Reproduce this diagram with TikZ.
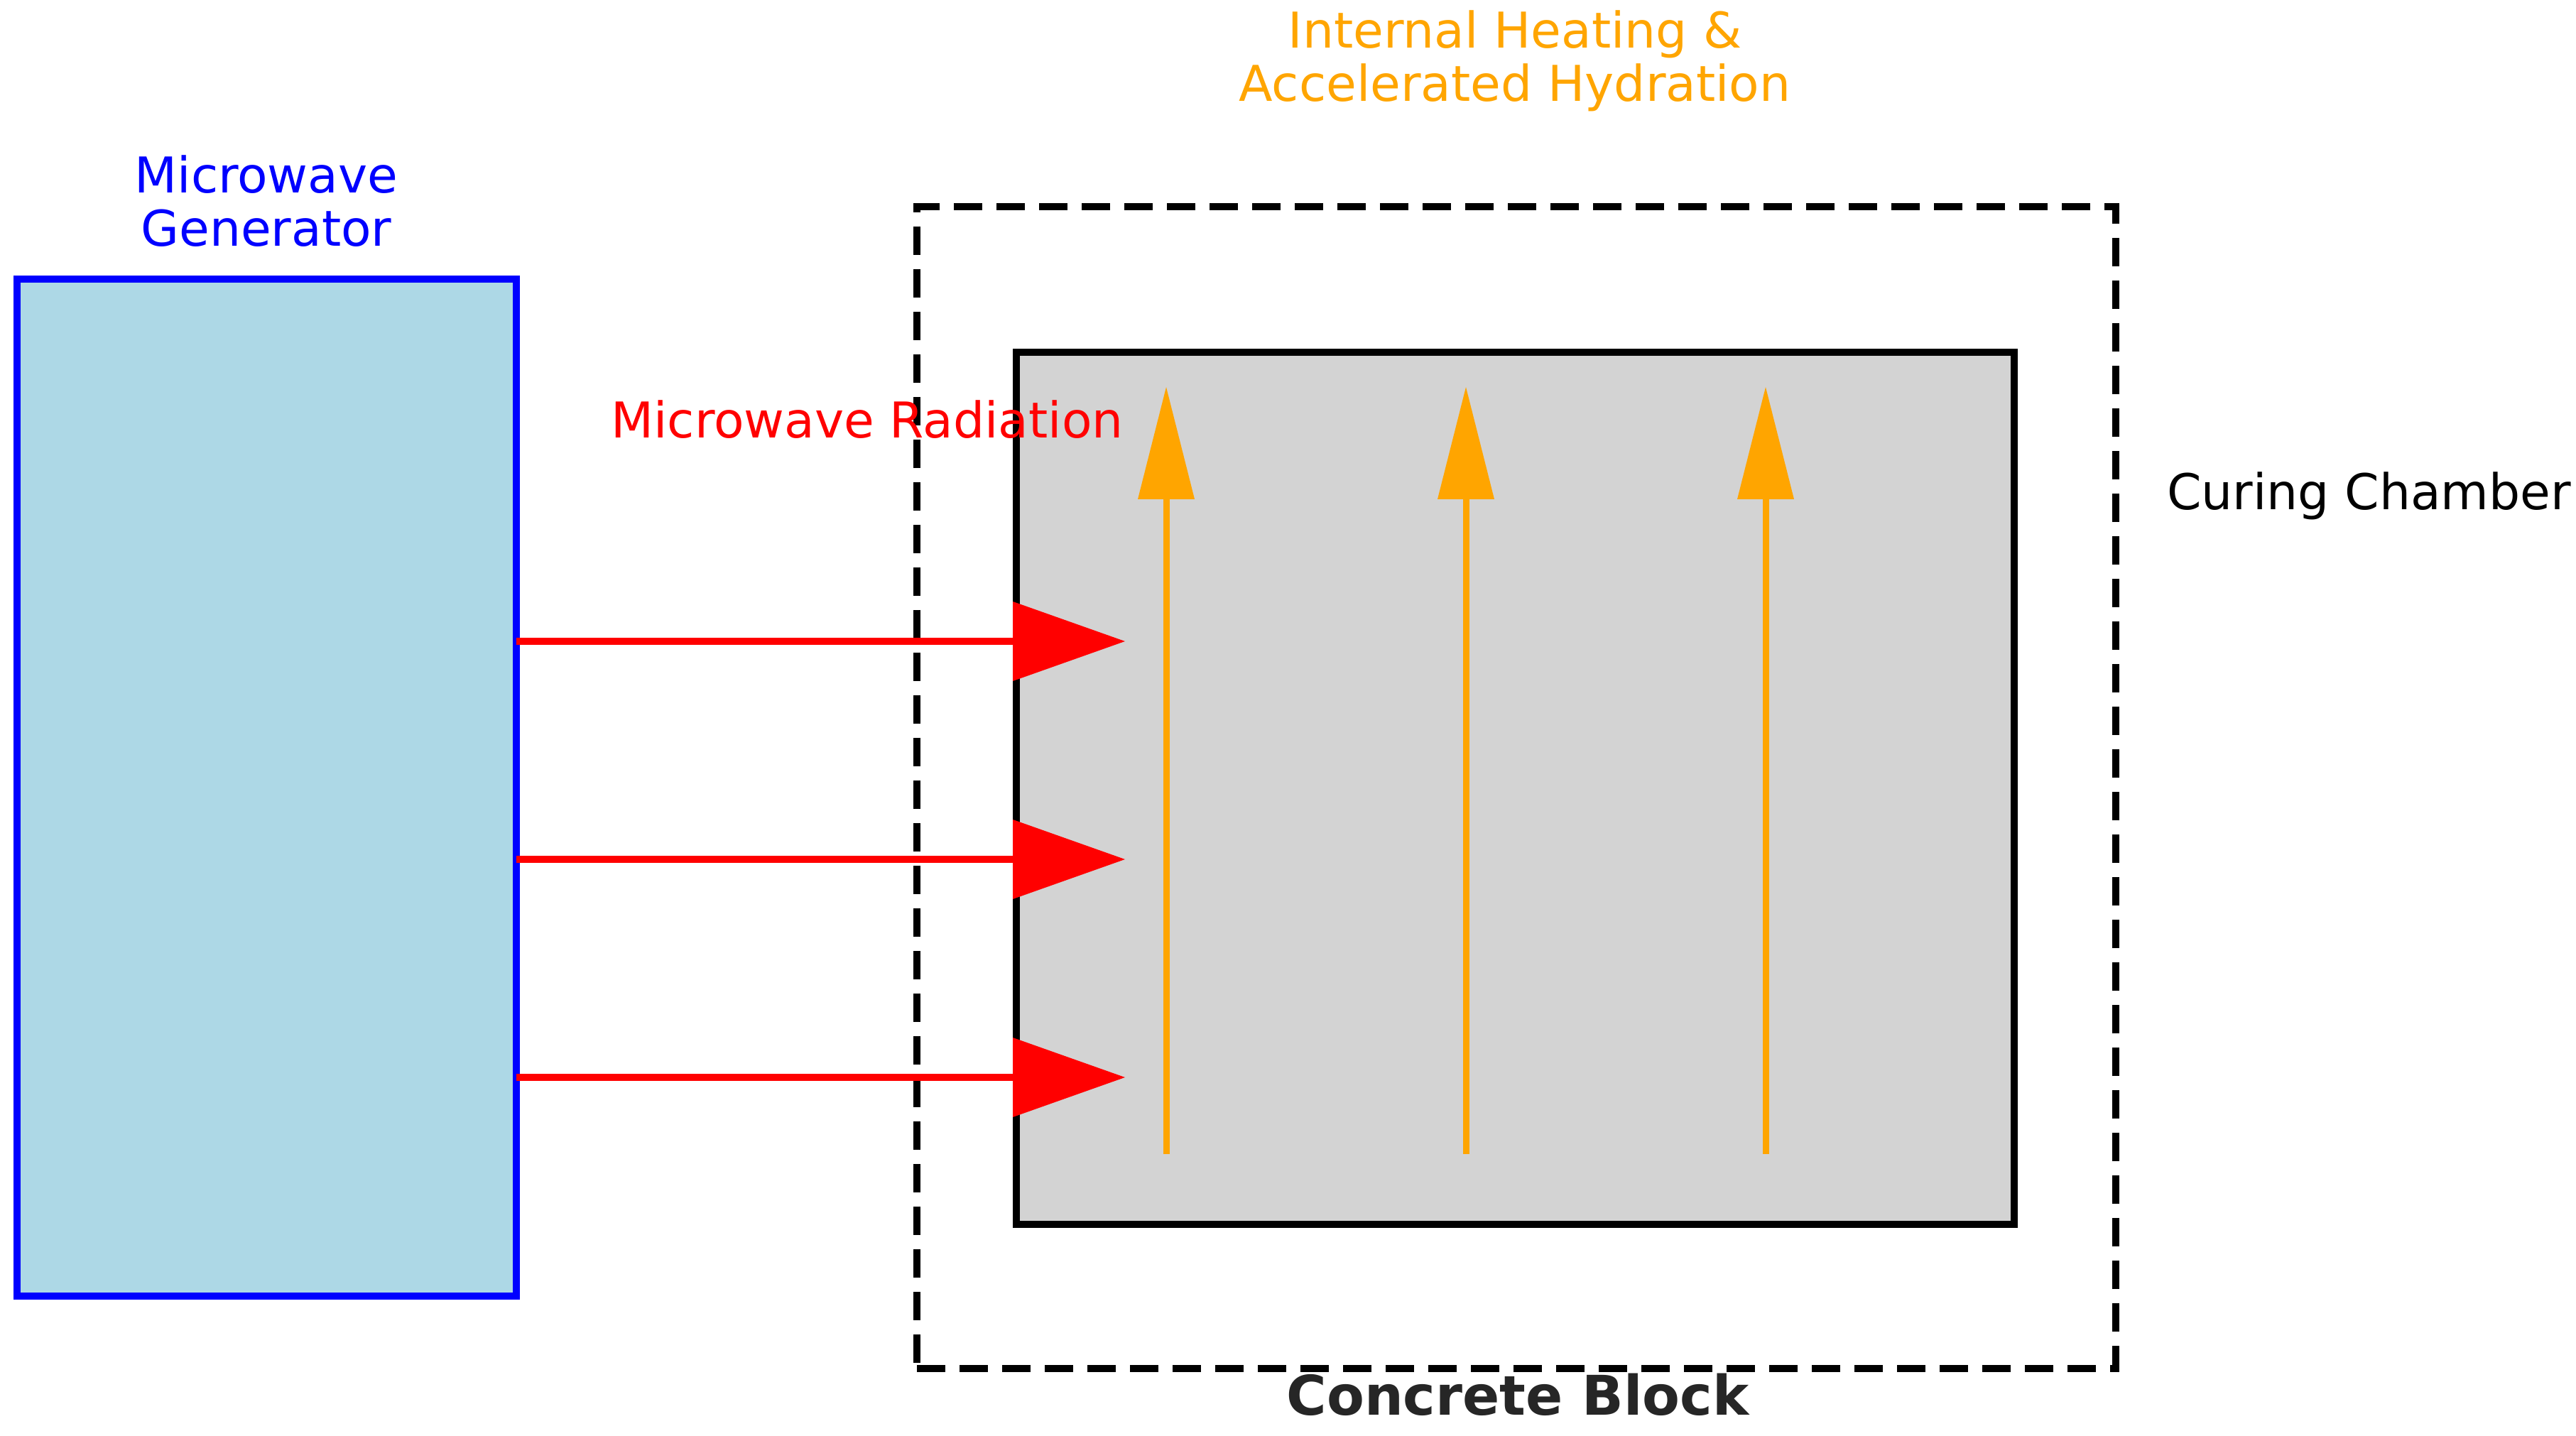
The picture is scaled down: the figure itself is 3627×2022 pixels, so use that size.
\documentclass[tikz,border=0pt]{standalone}
\usepackage{fontspec}
\setmainfont{DejaVu Sans}
\usetikzlibrary{arrows.meta}
\definecolor{genfill}{HTML}{ADD8E6}
\definecolor{genline}{HTML}{0000FF}
\definecolor{blockfill}{HTML}{D3D3D3}
\definecolor{heat}{HTML}{FFA500}
\definecolor{wave}{HTML}{FF0000}
\definecolor{labelgray}{HTML}{262626}
\begin{document}
\begin{tikzpicture}[x=0.2pt,y=-0.2pt,
  box/.style={draw,line width=2pt,inner sep=0pt,outer sep=0pt},
  genbox/.style={box,draw=genline,fill=genfill,minimum width=140.6pt,minimum height=286.4pt},
  chamberbox/.style={box,draw=black,dash pattern=on 8pt off 4pt,minimum width=337.6pt,minimum height=327.2pt},
  blockbox/.style={box,draw=black,fill=blockfill,minimum width=281pt,minimum height=245.6pt},
  txt/.style={inner sep=0pt,anchor=base,font=\fontsize{13.9}{16}\selectfont},
  boldtxt/.style={inner sep=0pt,anchor=base,font=\fontsize{15.4}{18}\selectfont\bfseries,text=labelgray},
  wavearrow/.style={draw=wave,line width=2pt,-{Triangle[length=31.6pt,width=22.4pt,line width=0pt]}},
  heatarrow/.style={draw=heat,line width=1.8pt,-{Triangle[length=31.6pt,width=16pt,line width=0pt]}},
]
\useasboundingbox (0,0) rectangle (3627,2022);

% boxes
\node[chamberbox] (chamber) at (2135,1109) {};
\node[blockbox] (block) at (2133.5,1110) {};
\node[genbox] (gen) at (375.5,1109) {};

% microwave radiation arrows
\coordinate (r1a) at (727,903);  \coordinate (r1b) at (1584,903);
\coordinate (r2a) at (727,1210); \coordinate (r2b) at (1584,1210);
\coordinate (r3a) at (727,1517); \coordinate (r3b) at (1584,1517);
\draw[wavearrow] (r1a) -- (r1b);
\draw[wavearrow] (r2a) -- (r2b);
\draw[wavearrow] (r3a) -- (r3b);

% internal heating arrows
\coordinate (h1a) at (1642,1625); \coordinate (h1b) at (1642,545);
\coordinate (h2a) at (2064,1625); \coordinate (h2b) at (2064,545);
\coordinate (h3a) at (2486,1625); \coordinate (h3b) at (2486,545);
\draw[heatarrow] (h1a) -- (h1b);
\draw[heatarrow] (h2a) -- (h2b);
\draw[heatarrow] (h3a) -- (h3b);

% labels
\node[txt,text=genline] (genl1) at (375,272) {Microwave};
\node[txt,text=genline] (genl2) at (375,347) {Generator};
\node[txt,text=heat] (heatl1) at (2133,68) {Internal Heating \&};
\node[txt,text=heat] (heatl2) at (2133,143) {Accelerated Hydration};
\node[txt,text=wave] (wavel) at (1221,617) {Microwave Radiation};
\node[txt,text=black,anchor=base west] (chamberl) at (3050,718) {Curing Chamber};
\node[boldtxt] (blockl) at (2137,1992) {Concrete Block};
\end{tikzpicture}
\end{document}
